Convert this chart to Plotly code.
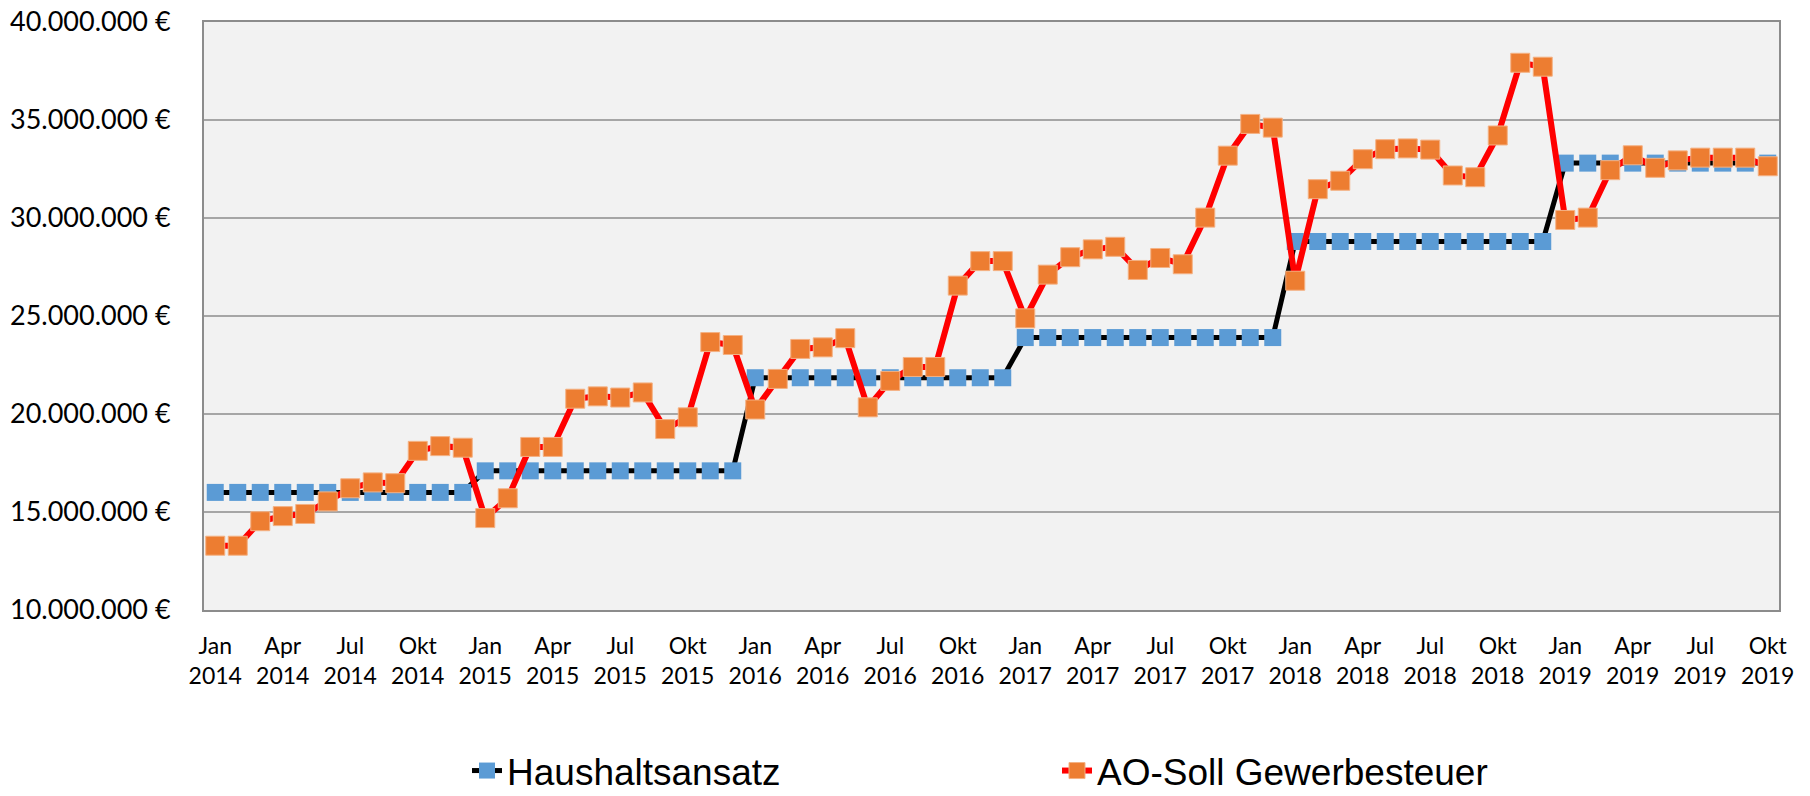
import plotly.graph_objects as go

months = ["Jan", "Feb", "Mär", "Apr", "Mai", "Jun", "Jul", "Aug", "Sep", "Okt", "Nov", "Dez"]
years = [2014, 2015, 2016, 2017, 2018, 2019]
categories = [f"{m} {y}" for y in years for m in months][:70]

haushaltsansatz = (
    [16.0e6] * 12 + [17.1e6] * 12 + [21.85e6] * 12 + [23.9e6] * 12 + [28.8e6] * 12 + [32.8e6] * 10
)

ao_soll = [
    13.28e6, 13.28e6, 14.53e6, 14.79e6, 14.90e6, 15.54e6, 16.21e6, 16.51e6, 16.47e6, 18.12e6, 18.36e6, 18.28e6,
    14.69e6, 15.70e6, 18.32e6, 18.32e6, 20.78e6, 20.90e6, 20.84e6, 21.10e6, 19.23e6, 19.83e6, 23.67e6, 23.52e6,
    20.23e6, 21.79e6, 23.32e6, 23.40e6, 23.87e6, 20.34e6, 21.69e6, 22.40e6, 22.40e6, 26.55e6, 27.80e6, 27.80e6,
    24.88e6, 27.11e6, 28.00e6, 28.40e6, 28.53e6, 27.35e6, 27.96e6, 27.64e6, 30.02e6, 33.18e6, 34.80e6, 34.61e6,
    26.80e6, 31.47e6, 31.90e6, 33.00e6, 33.51e6, 33.55e6, 33.49e6, 32.17e6, 32.08e6, 34.21e6, 37.92e6, 37.72e6,
    29.90e6, 30.02e6, 32.44e6, 33.20e6, 32.56e6, 32.94e6, 33.08e6, 33.08e6, 33.08e6, 32.64e6,
]

x_tick_idx = list(range(0, 70, 3))
x_tick_text = [categories[i].replace(" ", "<br>") for i in x_tick_idx]

y_tick_vals = [10e6, 15e6, 20e6, 25e6, 30e6, 35e6, 40e6]
y_tick_text = ["10.000.000 €", "15.000.000 €", "20.000.000 €", "25.000.000 €",
               "30.000.000 €", "35.000.000 €", "40.000.000 €"]

x = list(range(len(categories)))

fig = go.Figure()
fig.add_trace(go.Scatter(
    x=x, y=haushaltsansatz, name="Haushaltsansatz", mode="lines+markers",
    line=dict(color="#000000", width=5),
    marker=dict(symbol="square", size=17, color="#5B9BD5", line=dict(width=0)),
    customdata=categories,
))
fig.add_trace(go.Scatter(
    x=x, y=ao_soll, name="AO-Soll Gewerbesteuer", mode="lines+markers",
    line=dict(color="#FF0000", width=6),
    marker=dict(symbol="square", size=19, color="#ED7D31", line=dict(width=1, color="#F4B183")),
    customdata=categories,
))

fig.update_layout(
    width=1810, height=796,
    margin=dict(l=204, r=31, t=22, b=186, autoexpand=False),
    paper_bgcolor="white",
    plot_bgcolor="#F2F2F2",
    font=dict(family="Lato", color="#000000"),
    showlegend=True,
    legend=dict(
        orientation="h", xref="container", x=467 / 1810, xanchor="left",
        yref="container", y=(796 - 771) / 796, yanchor="middle",
        font=dict(family="Liberation Sans", size=37, color="#000000"),
        entrywidth=545, entrywidthmode="pixels",
        bgcolor="rgba(0,0,0,0)",
    ),
    xaxis=dict(
        range=[-0.5, 69.5],
        tickmode="array", tickvals=x_tick_idx, ticktext=x_tick_text,
        tickfont=dict(family="Lato", size=23),
        showgrid=False, zeroline=False,
        showline=True, linecolor="#8C8C8C", linewidth=2, mirror=True,
        ticks="", ticklabelstandoff=14,
    ),
    yaxis=dict(
        range=[10e6, 40e6],
        tickmode="array", tickvals=y_tick_vals, ticktext=y_tick_text,
        tickfont=dict(family="Lato", size=27),
        showgrid=True, gridcolor="#A6A6A6", gridwidth=1.5,
        zeroline=False,
        showline=True, linecolor="#8C8C8C", linewidth=2, mirror=True,
        ticks="", ticklabelstandoff=26, ticklabeloverflow="allow",
    ),
)

fig.write_html(
    "out.html",
    config={"displayModeBar": False},
    post_script="document.body.style.margin='0';document.body.style.padding='0';",
)
